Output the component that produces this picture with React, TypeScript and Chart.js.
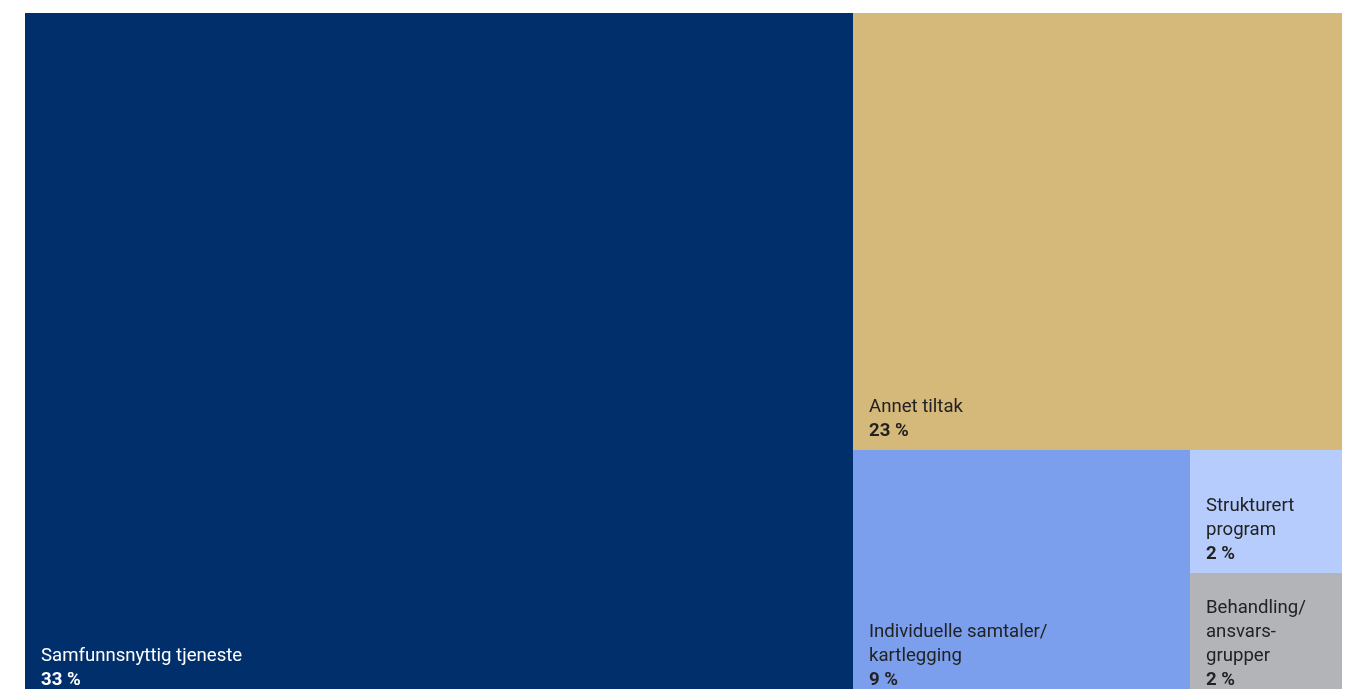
import React, { useEffect, useRef } from 'react';
import { Chart, registerables } from 'chart.js';

Chart.register(...registerables);

// Categories in treemap order (slice-and-dice, alternating split direction)
const categories = [
  'Samfunnsnyttig tjeneste',
  'Annet tiltak',
  'Individuelle samtaler/ kartlegging',
  'Strukturert program',
  'Behandling/ ansvars- grupper',
];
const labelLines = [
  ['Samfunnsnyttig tjeneste'],
  ['Annet tiltak'],
  ['Individuelle samtaler/', 'kartlegging'],
  ['Strukturert', 'program'],
  ['Behandling/', 'ansvars-', 'grupper'],
];
const shareLabels = ['33 %', '23 %', '9 %', '2 %', '2 %'];
// Cell area weights
const cellSizes = [60.9, 22.9, 9, 2, 2.05];
const cellColors = ['#002F6C', '#D5B97A', '#7B9FEC', '#B6CCFC', '#B3B4B8'];
const textColors = ['#FFFFFF', '#222222', '#222222', '#222222', '#222222'];

type Rect = { x0: number; x1: number; y0: number; y1: number };

function sliceAndDice(sizes: number[]): Rect[] {
  const rects: Rect[] = [];
  let x0 = 0, x1 = 100, y0 = 0, y1 = 100;
  let remaining = sizes.reduce((a, b) => a + b, 0);
  sizes.forEach((s, i) => {
    const f = remaining > 0 ? s / remaining : 1;
    if (i === sizes.length - 1) {
      rects.push({ x0, x1, y0, y1 });
    } else if (i % 2 === 0) {
      const xm = x0 + (x1 - x0) * f;
      rects.push({ x0, x1: xm, y0, y1 });
      x0 = xm;
    } else {
      const ym = y0 + (y1 - y0) * f;
      rects.push({ x0, x1, y0, y1: ym });
      y0 = ym;
    }
    remaining -= s;
  });
  return rects;
}

const treemapPlugin = {
  id: 'treemapCells',
  afterDatasetsDraw(chart: any) {
    const ctx = chart.ctx as CanvasRenderingContext2D;
    const xs = chart.scales.x;
    const ys = chart.scales.y;
    const data = chart.data.datasets[0].data as any[];
    ctx.save();
    data.forEach((d: any, i: number) => {
      const left = Math.round(xs.getPixelForValue(d.x0));
      const right = Math.round(xs.getPixelForValue(d.x1));
      const top = Math.round(ys.getPixelForValue(d.y0));
      const bottom = Math.round(ys.getPixelForValue(d.y1));
      ctx.fillStyle = cellColors[i];
      ctx.fillRect(left, top, right - left, bottom - top);
    });
    data.forEach((d: any, i: number) => {
      const left = Math.round(xs.getPixelForValue(d.x0));
      const bottom = Math.round(ys.getPixelForValue(d.y1));
      const lines = labelLines[i];
      const lastY = bottom - 18.5;
      ctx.fillStyle = textColors[i];
      ctx.textBaseline = 'middle';
      ctx.textAlign = 'left';
      ctx.font = 'bold 18.6px Roboto';
      ctx.fillText(shareLabels[i], left + 16, lastY);
      ctx.font = '400 18.6px Roboto';
      lines.forEach((ln, k) => {
        const y = lastY - (lines.length - k) * 24.2;
        ctx.fillText(ln, left + 16, y);
      });
    });
    ctx.restore();
  },
};

export default function App() {
  const ref = useRef<HTMLCanvasElement | null>(null);
  useEffect(() => {
    document.documentElement.style.overflow = 'hidden';
    document.body.style.overflow = 'hidden';
    const rects = sliceAndDice(cellSizes);
    const chart = new Chart(ref.current as HTMLCanvasElement, {
      type: 'scatter',
      data: {
        datasets: [
          {
            label: 'Andel',
            data: rects.map((r, i) => ({
              x: (r.x0 + r.x1) / 2,
              y: (r.y0 + r.y1) / 2,
              ...r,
              name: categories[i],
              size: cellSizes[i],
            })) as any,
            pointRadius: 0,
            pointHoverRadius: 0,
          },
        ],
      },
      options: {
        animation: false,
        responsive: false,
        devicePixelRatio: 1,
        layout: { padding: { left: 17, right: 1, top: 5, bottom: 1 } },
        plugins: { legend: { display: false }, tooltip: { enabled: false } },
        scales: {
          x: { type: 'linear', min: 0, max: 100, display: false },
          y: { type: 'linear', min: 0, max: 100, reverse: true, display: false },
        },
      },
      plugins: [treemapPlugin],
    });
    return () => chart.destroy();
  }, []);
  return (
    <div style={{ width: 1335, height: 692 }}>
      <canvas ref={ref} width={1335} height={692} style={{ display: 'block' }} />
    </div>
  );
}
